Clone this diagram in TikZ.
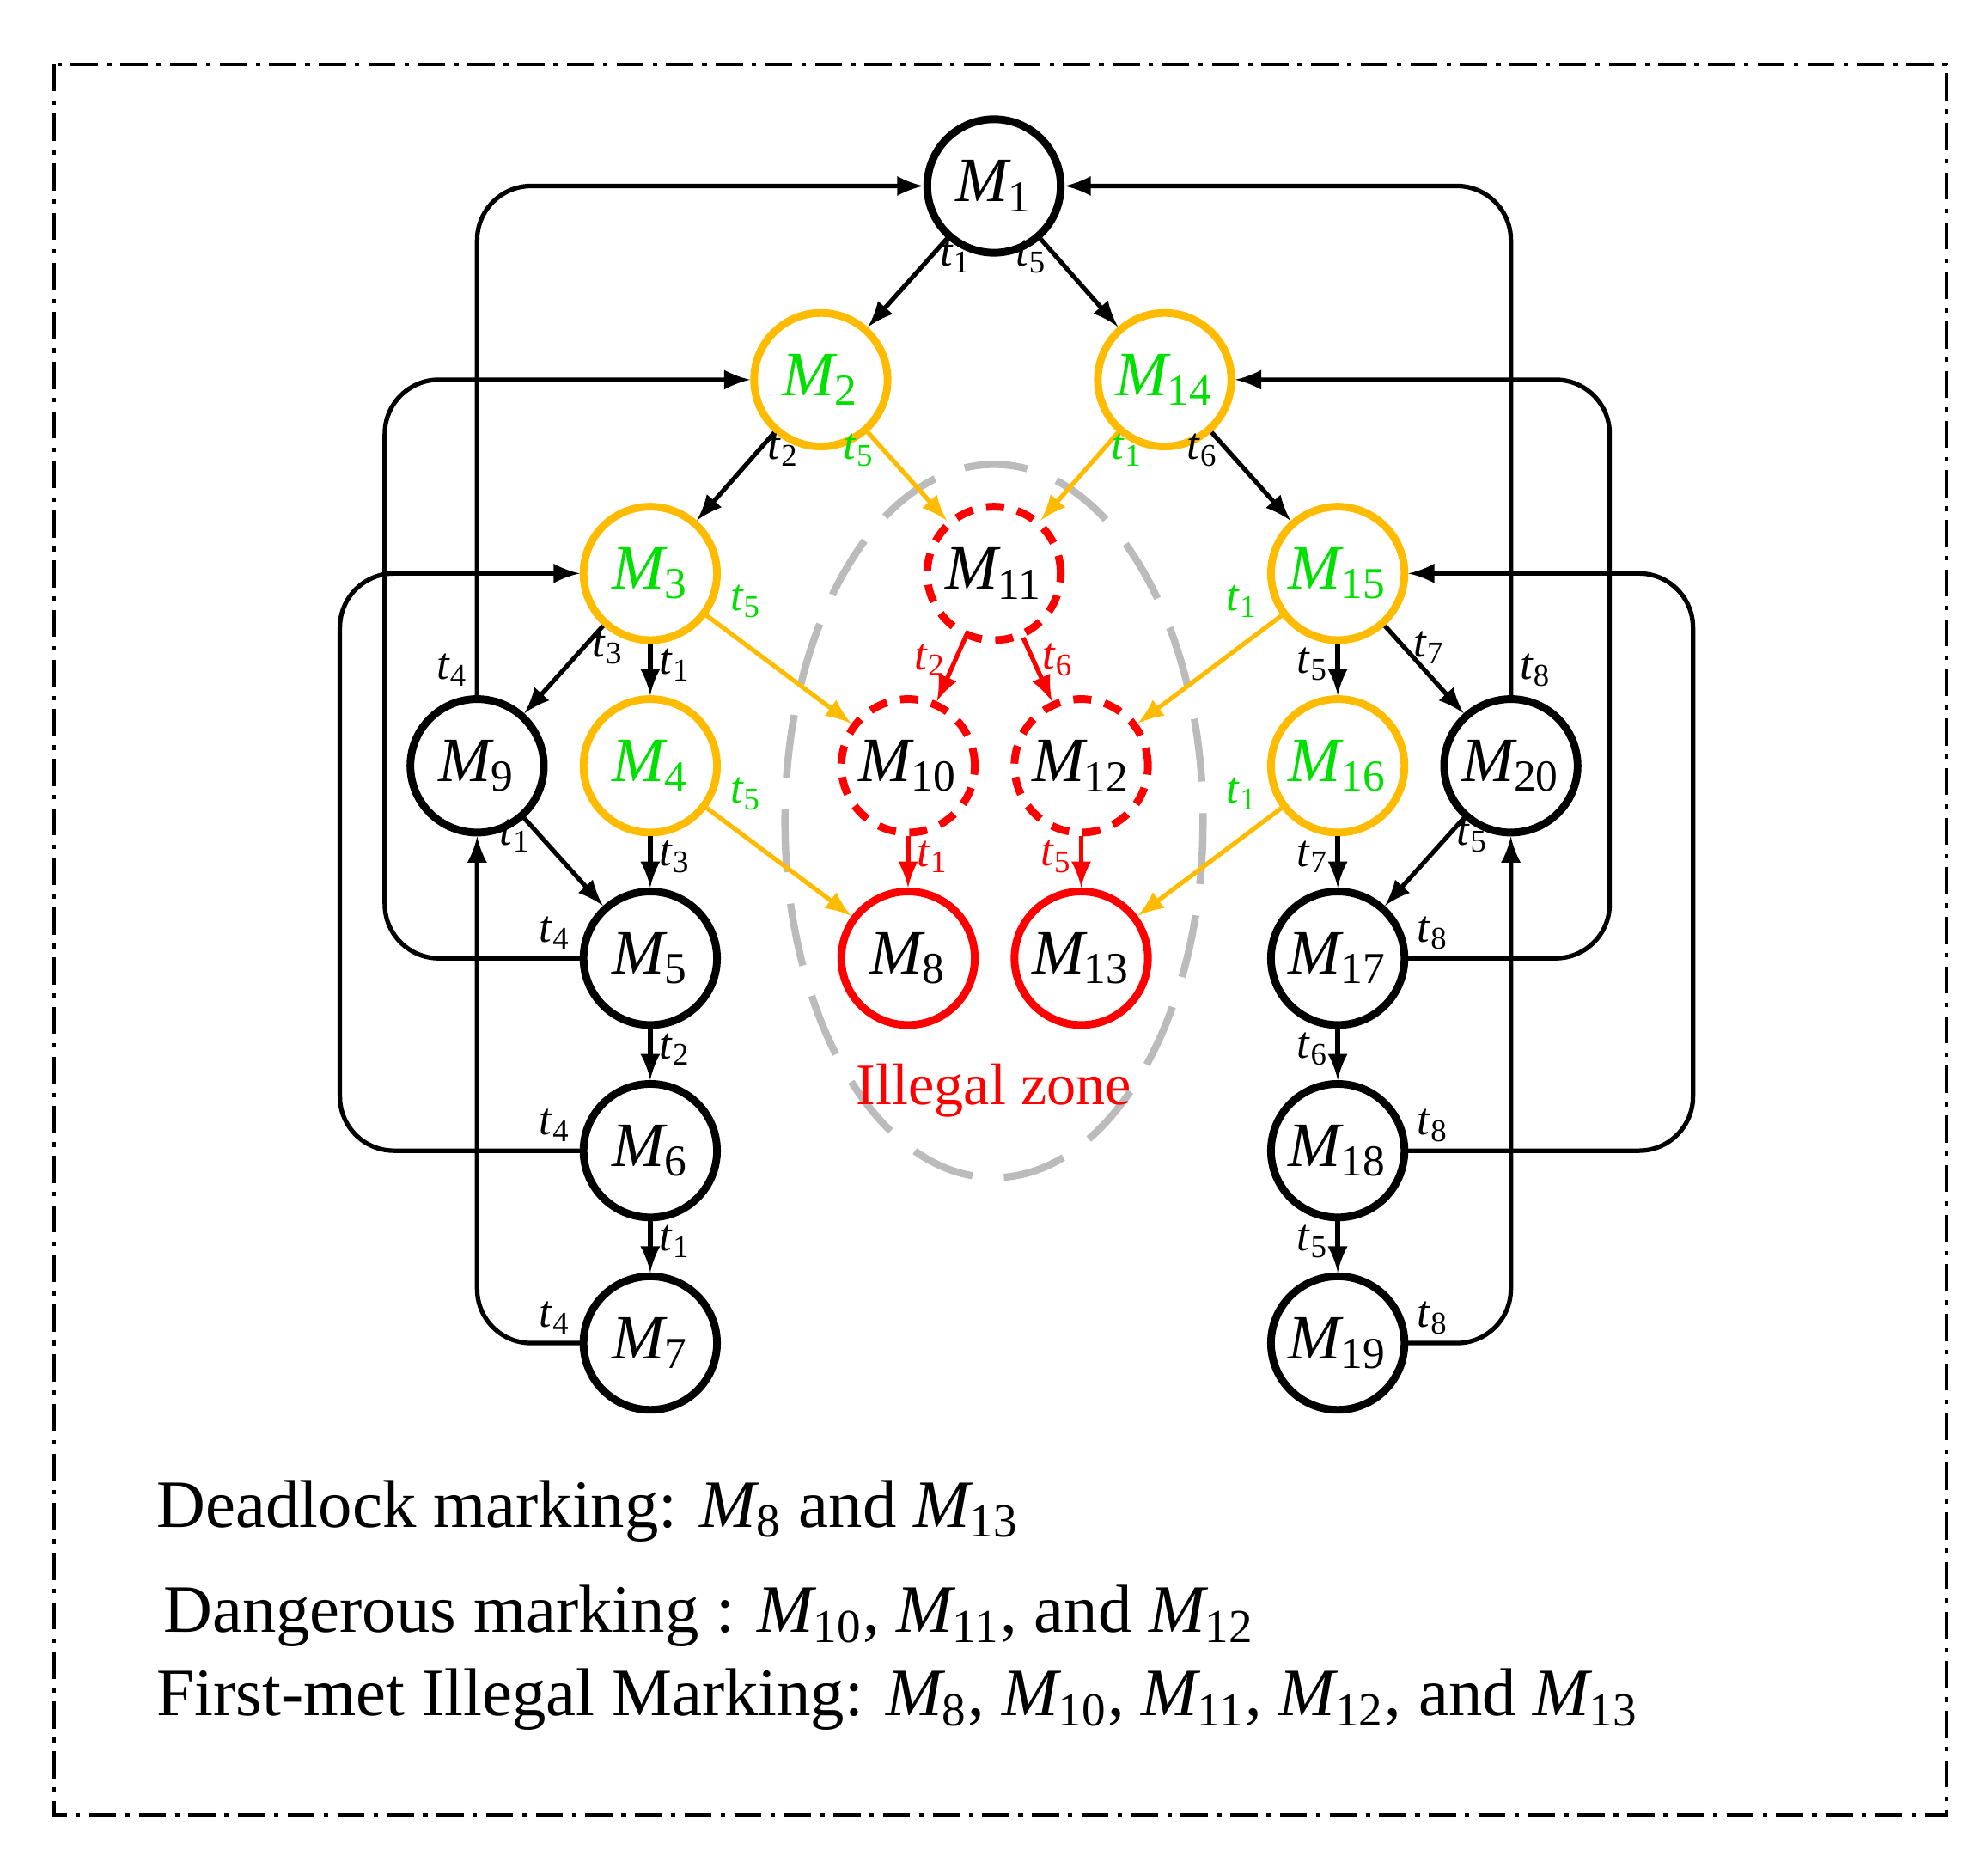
\documentclass[tikz,border=0pt]{standalone}
\usepackage{fontspec}
\setmainfont{Liberation Serif}
\usetikzlibrary{positioning, arrows}
\definecolor{markorange}{HTML}{FFBB00}
\definecolor{markgreen}{HTML}{00E000}
\definecolor{markred}{HTML}{FF0000}
\definecolor{zonegray}{HTML}{BBBBBB}
\newcommand{\mk}[1]{\textit{M}\kern-0.05em\textsubscript{#1}}
\newcommand{\tr}[1]{\textit{t}\textsubscript{#1}}
\tikzset{
  marking/.style={circle, draw=black, line width=1.7pt, minimum size=1.04cm, inner sep=0pt,
    font=\fontsize{14}{15}\selectfont},
  warn/.style={marking, draw=markorange, text=markgreen},
  danger/.style={marking, draw=markred, dashed, dash pattern=on 4pt off 3pt},
  dead/.style={marking, draw=markred},
  arc/.style={-latex, line width=1pt},
  lbl/.style={font=\fontsize{10}{11}\selectfont, inner sep=1.5pt}
}
\begin{document}
\begin{tikzpicture}[x=0.01cm, y=-0.01cm]
  \useasboundingbox (0,0) rectangle (1550,1442);
  \draw[line width=0.8pt, dash pattern=on 6pt off 2pt on 1pt off 2pt] (42,50) rectangle (1518,1415);

  % illegal zone
  \draw[zonegray, line width=1.6pt, dash pattern=on 14pt off 7pt] (775,640) ellipse (163 and 278);
  \node[text=markred, font=\fontsize{13}{14}\selectfont] (zone) at (775,850) {Illegal zone};

  \node[marking] (M1) at (775,145) {\mk{1}};
  \node[warn] (M2) at (640,296) {\mk{2}};
  \node[warn] (M14) at (908,296) {\mk{14}};
  \node[warn] (M3) at (507,447) {\mk{3}};
  \node[danger] (M11) at (775,447) {\mk{11}};
  \node[warn] (M15) at (1043,447) {\mk{15}};
  \node[marking] (M9) at (372,597) {\mk{9}};
  \node[warn] (M4) at (507,597) {\mk{4}};
  \node[danger] (M10) at (708,597) {\mk{10}};
  \node[danger] (M12) at (843,597) {\mk{12}};
  \node[warn] (M16) at (1043,597) {\mk{16}};
  \node[marking] (M20) at (1178,597) {\mk{20}};
  \node[marking] (M5) at (507,747) {\mk{5}};
  \node[dead] (M8) at (708,747) {\mk{8}};
  \node[dead] (M13) at (843,747) {\mk{13}};
  \node[marking] (M17) at (1043,747) {\mk{17}};
  \node[marking] (M6) at (507,897) {\mk{6}};
  \node[marking] (M18) at (1043,897) {\mk{18}};
  \node[marking] (M7) at (507,1047) {\mk{7}};
  \node[marking] (M19) at (1043,1047) {\mk{19}};

  % black arcs
  \draw[arc] (M1) -- node[lbl, pos=0.2, right] {\tr{1}} (M2);
  \draw[arc] (M1) -- node[lbl, pos=0.2, left] {\tr{5}} (M14);
  \draw[arc] (M2) -- node[lbl, pos=0.2, right] {\tr{2}} (M3);
  \draw[arc] (M14) -- node[lbl, pos=0.2, left] {\tr{6}} (M15);
  \draw[arc] (M3) -- node[lbl, pos=0.25, right] {\tr{3}} (M9);
  \draw[arc] (M3) -- node[lbl, pos=0.4, right] {\tr{1}} (M4);
  \draw[arc] (M15) -- node[lbl, pos=0.4, left] {\tr{5}} (M16);
  \draw[arc] (M15) -- node[lbl, pos=0.25, right] {\tr{7}} (M20);
  \draw[arc] (M4) -- node[lbl, pos=0.4, right] {\tr{3}} (M5);
  \draw[arc] (M9) -- node[lbl, pos=0.2, left] {\tr{1}} (M5);
  \draw[arc] (M16) -- node[lbl, pos=0.4, left] {\tr{7}} (M17);
  \draw[arc] (M20) -- node[lbl, pos=0.2, right] {\tr{5}} (M17);
  \draw[arc] (M5) -- node[lbl, pos=0.4, right] {\tr{2}} (M6);
  \draw[arc] (M6) -- node[lbl, pos=0.4, right] {\tr{1}} (M7);
  \draw[arc] (M17) -- node[lbl, pos=0.4, left] {\tr{6}} (M18);
  \draw[arc] (M18) -- node[lbl, pos=0.4, left] {\tr{5}} (M19);

  % orange arcs
  \draw[arc, markorange] (M2) -- node[lbl, pos=0.2, left, text=markgreen] {\tr{5}} (M11);
  \draw[arc, markorange] (M14) -- node[lbl, pos=0.2, right, text=markgreen] {\tr{1}} (M11);
  \draw[arc, markorange] (M3) -- node[lbl, pos=0.1, above right, text=markgreen] {\tr{5}} (M10);
  \draw[arc, markorange] (M15) -- node[lbl, pos=0.1, above left, text=markgreen] {\tr{1}} (M12);
  \draw[arc, markorange] (M4) -- node[lbl, pos=0.1, above right, text=markgreen] {\tr{5}} (M8);
  \draw[arc, markorange] (M16) -- node[lbl, pos=0.1, above left, text=markgreen] {\tr{1}} (M13);

  % red arcs
  \draw[arc, markred] (M11) -- node[lbl, pos=0.35, left] {\tr{2}} (M10);
  \draw[arc, markred] (M11) -- node[lbl, pos=0.35, right] {\tr{6}} (M12);
  \draw[arc, markred] (M10) -- node[lbl, pos=0.4, right] {\tr{1}} (M8);
  \draw[arc, markred] (M12) -- node[lbl, pos=0.4, left] {\tr{5}} (M13);

  % returning arcs
  \draw[arc, rounded corners=12pt] (M9.north) node[lbl, above left] {\tr{4}} |- (M1.west);
  \draw[arc, rounded corners=12pt] (M5.west) node[lbl, above left] {\tr{4}} -| (300,296) -- (M2.west);
  \draw[arc, rounded corners=12pt] (M6.west) node[lbl, above left] {\tr{4}} -| (265,447) -- (M3.west);
  \draw[arc, rounded corners=12pt] (M7.west) node[lbl, above left] {\tr{4}} -| (M9.south);
  \draw[arc, rounded corners=12pt] (M20.north) node[lbl, above right] {\tr{8}} |- (M1.east);
  \draw[arc, rounded corners=12pt] (M17.east) node[lbl, above right] {\tr{8}} -| (1255,296) -- (M14.east);
  \draw[arc, rounded corners=12pt] (M18.east) node[lbl, above right] {\tr{8}} -| (1320,447) -- (M15.east);
  \draw[arc, rounded corners=12pt] (M19.east) node[lbl, above right] {\tr{8}} -| (M20.south);

  % legend
  \node[anchor=west, font=\fontsize{15}{17}\selectfont] (dead) at (110,1178) {Deadlock marking: \mk{8} and \mk{13}};
  \node[anchor=west, font=\fontsize{15}{17}\selectfont] (dang) at (115,1260) {Dangerous marking : \mk{10}, \mk{11}, and \mk{12}};
  \node[anchor=west, font=\fontsize{15}{17}\selectfont] (first) at (110,1325) {First-met Illegal Marking: \mk{8}, \mk{10}, \mk{11}, \mk{12}, and \mk{13}};
\end{tikzpicture}
\end{document}
